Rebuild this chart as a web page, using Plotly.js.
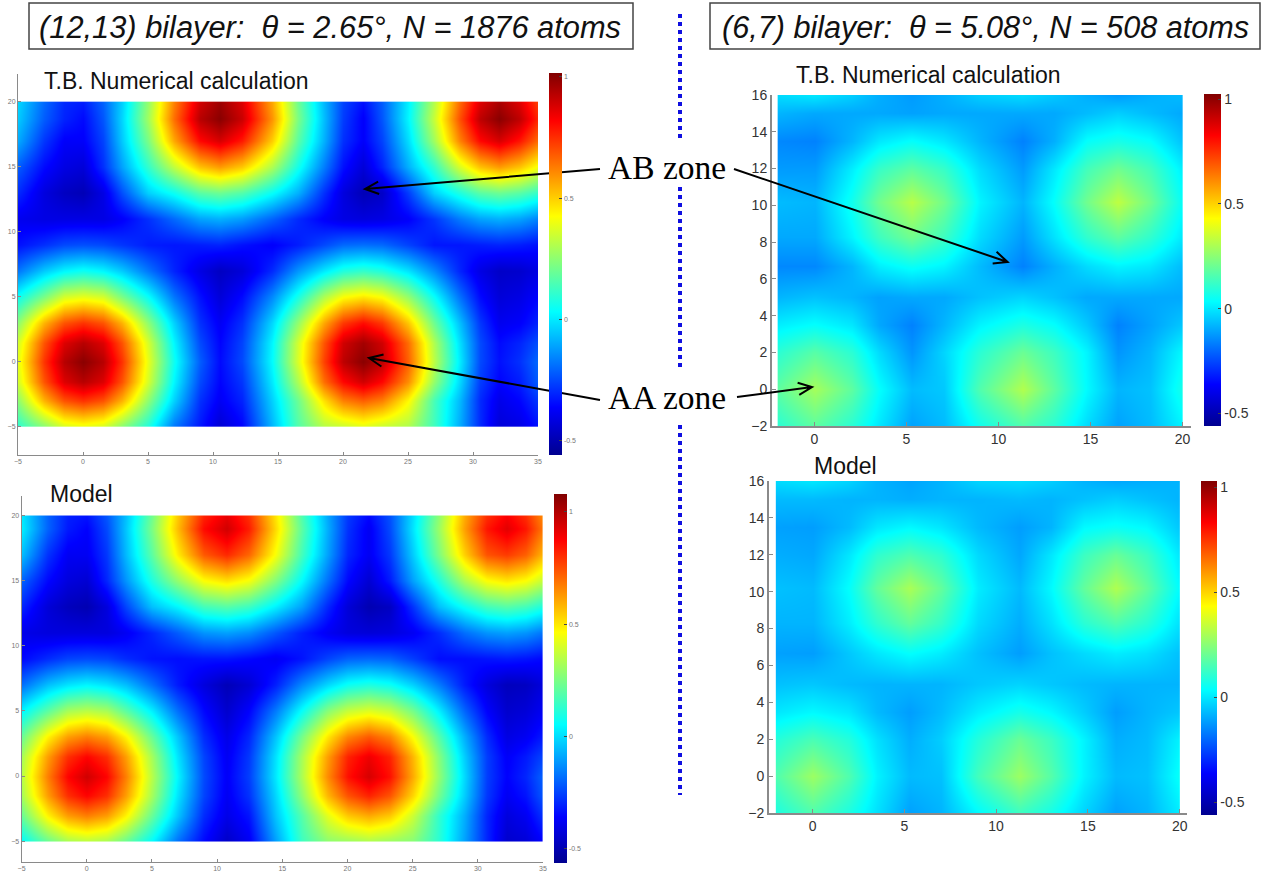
<!DOCTYPE html>
<html><head><meta charset="utf-8">
<script src="https://cdn.plot.ly/plotly-3.0.1.min.js"></script>
<style>html,body{margin:0;padding:0;background:#fff;overflow:hidden}</style>
</head><body><div id="chart" style="width:1275px;height:877px"></div>
<script>
// Values (colour → value through the colour bars)
const xA=[-5,-3,-1.5,0,1.5,3,5,7,9,10.5,12.2,14.5,16.5,18.5,20,21.5,23,25,27,29,30.5,32,33.5,35];
const yA=[-5,-3,-1.5,0,1.5,3,5,7,9,11,13,15,17,18.7,20];
const zA=[
[.1,.24,.36,.39,.36,.24,.08,-.18,-.33,-.44,-.36,-.08,.16,.31,.34,.38,.34,.3,.13,-.1,-.3,-.43,-.41,-.34],
[.25,.54,.69,.74,.69,.54,.25,-.04,-.29,-.38,-.31,-.04,.2,.47,.62,.67,.62,.43,.14,-.08,-.3,-.4,-.36,-.28],
[.36,.69,.87,.93,.87,.69,.36,.02,-.25,-.36,-.28,0,.3,.65,.81,.89,.81,.6,.26,-.03,-.27,-.36,-.32,-.22],
[.39,.74,.93,1,.93,.74,.39,.05,-.22,-.35,-.25,.03,.37,.72,.92,1,.92,.67,.32,0,-.25,-.34,-.29,-.2],
[.36,.69,.87,.93,.87,.69,.36,.02,-.25,-.36,-.26,.02,.36,.69,.89,.96,.89,.65,.3,-.02,-.25,-.35,-.31,-.24],
[.25,.54,.69,.74,.69,.54,.25,-.04,-.29,-.38,-.29,-.03,.26,.56,.73,.8,.73,.51,.2,-.07,-.28,-.39,-.37,-.31],
[.05,.22,.36,.39,.36,.22,.04,-.18,-.34,-.43,-.35,-.15,.07,.3,.42,.46,.42,.26,.04,-.19,-.35,-.43,-.41,-.36],
[-.18,-.05,.02,.05,.02,-.05,-.18,-.31,-.41,-.47,-.43,-.3,-.13,0,.08,.11,.08,-.01,-.15,-.31,-.41,-.46,-.45,-.41],
[-.34,-.29,-.25,-.24,-.25,-.28,-.32,-.33,-.32,-.31,-.34,-.37,-.32,-.25,-.2,-.19,-.2,-.26,-.33,-.33,-.32,-.31,-.32,-.34],
[-.39,-.41,-.41,-.41,-.41,-.37,-.29,-.2,-.11,-.09,-.12,-.21,-.3,-.37,-.41,-.42,-.41,-.37,-.28,-.17,-.11,-.09,-.11,-.16],
[-.3,-.42,-.47,-.49,-.41,-.24,-.04,.05,.17,.2,.16,.04,-.09,-.29,-.42,-.49,-.46,-.27,-.04,.08,.17,.2,.17,.11],
[-.22,-.35,-.41,-.43,-.29,-.11,.11,.33,.52,.58,.51,.3,.06,-.17,-.34,-.43,-.31,-.09,.11,.37,.52,.58,.52,.41],
[-.1,-.28,-.37,-.37,-.26,-.05,.22,.56,.81,.88,.78,.5,.17,-.09,-.29,-.37,-.26,-.02,.28,.62,.81,.88,.79,.65],
[-.05,-.22,-.31,-.35,-.23,-.03,.28,.65,.93,1,.9,.59,.22,-.07,-.27,-.37,-.23,.02,.34,.7,.92,1,.92,.76],
[-.03,-.2,-.3,-.32,-.21,-.04,.26,.62,.89,.97,.87,.56,.2,-.08,-.26,-.34,-.22,.01,.31,.66,.87,.95,.87,.72]];

const xC=[-5,-3,-1.5,0,1.5,3,5,7,9,10.7,12.4,14.5,16.5,18.5,20,21.6,23.2,25,27,29,30.7,32.2,33.7,35];
const yC=[-5,-3,-1.5,0,1.5,3,5,7,9,11,13,15,17,19,20];
const zC=[
[.05,.22,.32,.35,.32,.22,.05,-.18,-.35,-.46,-.38,-.1,.15,.28,.3,.33,.3,.27,.12,-.1,-.3,-.45,-.43,-.36],
[.22,.48,.62,.67,.62,.48,.22,-.04,-.29,-.4,-.33,-.04,.19,.42,.55,.6,.55,.38,.13,-.08,-.3,-.42,-.38,-.28],
[.32,.62,.8,.87,.8,.62,.32,.01,-.25,-.38,-.28,-.01,.28,.58,.74,.82,.74,.53,.24,-.03,-.27,-.38,-.33,-.22],
[.35,.67,.87,.95,.87,.67,.35,.04,-.24,-.37,-.26,.02,.33,.65,.85,.94,.85,.6,.29,-.01,-.26,-.36,-.3,-.2],
[.32,.62,.8,.87,.8,.62,.32,.01,-.25,-.38,-.27,.01,.32,.62,.82,.9,.82,.58,.27,-.03,-.26,-.37,-.32,-.25],
[.22,.48,.62,.67,.62,.48,.22,-.04,-.29,-.4,-.3,-.04,.24,.5,.66,.73,.66,.46,.19,-.08,-.29,-.41,-.38,-.32],
[.04,.2,.32,.35,.32,.2,.03,-.18,-.35,-.45,-.36,-.16,.06,.27,.37,.41,.37,.24,.03,-.2,-.36,-.45,-.43,-.38],
[-.18,-.05,.01,.04,.01,-.05,-.18,-.32,-.42,-.49,-.44,-.31,-.14,-.01,.07,.1,.07,-.02,-.16,-.32,-.42,-.48,-.47,-.42],
[-.35,-.29,-.25,-.24,-.25,-.29,-.33,-.34,-.33,-.33,-.35,-.38,-.33,-.25,-.2,-.19,-.2,-.26,-.34,-.34,-.33,-.32,-.33,-.35],
[-.4,-.42,-.42,-.42,-.42,-.38,-.3,-.21,-.12,-.1,-.13,-.22,-.31,-.38,-.42,-.43,-.42,-.38,-.29,-.18,-.12,-.1,-.12,-.17],
[-.3,-.43,-.48,-.5,-.42,-.25,-.05,.04,.16,.19,.15,.03,-.1,-.3,-.43,-.5,-.47,-.28,-.05,.07,.16,.19,.16,.1],
[-.2,-.35,-.42,-.44,-.3,-.12,.1,.29,.46,.51,.45,.26,.05,-.18,-.35,-.44,-.32,-.1,.1,.33,.46,.5,.46,.37],
[-.05,-.28,-.38,-.38,-.27,-.06,.2,.49,.73,.81,.71,.45,.16,-.1,-.3,-.38,-.27,-.03,.25,.54,.74,.78,.72,.58],
[.03,-.2,-.32,-.36,-.24,-.04,.25,.57,.86,.95,.83,.52,.2,-.08,-.28,-.38,-.24,.01,.3,.62,.84,.92,.84,.68],
[.02,-.2,-.31,-.33,-.22,-.05,.23,.55,.82,.91,.8,.5,.18,-.09,-.27,-.35,-.23,0,.28,.6,.8,.88,.8,.65]];

const xB=[-2,0,2,3.5,5.3,7,9,11.3,13,14.8,16.5,18.2,20];
const yB=[-2,0,2,3.5,5,6.7,8.3,10.2,12,13.5,15,16];
const zB=[
[.1,.18,.1,0,-.11,-.07,.06,.16,.1,-.02,-.11,-.07,.02],
[.18,.29,.18,.04,-.07,-.05,.16,.31,.18,.03,-.08,-.06,.07],
[.1,.17,.1,-.02,-.13,-.03,.1,.2,.13,.02,-.13,-.08,.03],
[.01,.04,0,-.1,-.16,-.08,.02,.08,.04,-.05,-.16,-.11,-.05],
[-.08,-.06,-.08,-.11,-.1,-.1,-.06,-.03,-.06,-.1,-.1,-.1,-.1],
[-.15,-.15,-.08,.01,.05,.02,-.07,-.16,-.09,-.02,.02,0,-.07],
[-.1,-.1,.02,.13,.21,.13,-.02,-.12,-.01,.11,.18,.11,0],
[-.07,-.08,.06,.21,.32,.21,.02,-.08,.04,.21,.33,.21,.04],
[-.12,-.12,.01,.12,.18,.12,-.02,-.12,0,.14,.21,.14,.01],
[-.15,-.16,-.08,0,.04,0,-.08,-.16,-.09,.04,.07,.04,-.06],
[-.08,-.1,-.1,-.1,-.11,-.1,-.1,-.1,-.1,-.07,-.04,-.07,-.1],
[-.02,0,-.04,-.09,-.12,-.09,-.04,-.02,-.05,-.09,-.12,-.09,-.07]];

const xD=[-2,0,2,3.5,5.3,7,9,11.3,13,14.8,16.5,18.2,20];
const yD=[-2,0,2,3.5,5,6.7,8.3,10.2,12,13.5,15,16];
const zD=[
[.08,.16,.08,-.01,-.11,-.08,.03,.13,.07,-.03,-.11,-.08,.01],
[.16,.28,.16,.02,-.07,-.06,.14,.28,.17,.02,-.07,-.06,.05],
[.09,.15,.09,-.01,-.09,-.04,.09,.2,.13,.02,-.09,-.07,.02],
[0,.03,0,-.07,-.115,-.07,.01,.07,.03,-.04,-.115,-.08,-.05],
[-.06,-.05,-.07,-.08,-.08,-.08,-.05,-.03,-.05,-.07,-.08,-.08,-.08],
[-.11,-.115,-.05,0,.04,.01,-.06,-.115,-.06,-.02,.01,-.01,-.06],
[-.08,-.08,.01,.11,.19,.12,-.02,-.09,-.01,.1,.16,.1,-.01],
[-.06,-.07,.04,.19,.3,.19,.01,-.07,.03,.19,.31,.19,.03],
[-.09,-.1,0,.11,.16,.11,-.02,-.1,0,.13,.2,.13,0],
[-.11,-.115,-.07,0,.03,0,-.07,-.115,-.08,.03,.05,.03,-.05],
[-.07,-.07,-.08,-.08,-.09,-.08,-.08,-.07,-.08,-.06,-.04,-.06,-.08],
[-.02,0,-.03,-.08,-.105,-.08,-.03,-.02,-.04,-.08,-.1,-.09,-.08]];

const ticksX35=[-5,0,5,10,15,20,25,30,35];
const ticksY20=[-5,0,5,10,15,20];
const ticksX20=[0,5,10,15,20];
const ticksY16=[-2,0,2,4,6,8,10,12,14,16];
const barTicks=[-0.5,0,0.5,1];
const barLabels=['-0.5','0','0.5','1'];
const titleA='(12,13) bilayer:  θ = 2.65°, N = 1876 atoms';
const titleB='(6,7) bilayer:  θ = 5.08°, N = 508 atoms';

const W=1275,H=877;
const px=v=>v/W, py=v=>1-v/H;
const jet=[[0,'#00008f'],[0.125,'#0000ff'],[0.375,'#00ffff'],[0.625,'#ffff00'],[0.875,'#ff0000'],[1,'#800000']];
// tiny outer duplicates keep the smoothed image inside the data extent
const padAxis=a=>[a[0]-1e-3,...a,a[a.length-1]+1e-3];
const padZ=z=>{const r=z.map(o=>[o[0],...o,o[o.length-1]]);return [r[0],...r,r[r.length-1]];};

const panels=[
 {id:'',x:xA,y:yA,z:zA,dom:[18,538,74,455],xr:[-5,35],yr:[-7.18,22.13],xt:ticksX35,yt:ticksY20,fs:7,
  bar:[549,562,73,455],zr:[-0.56,1.016]},
 {id:'2',x:xB,y:yB,z:zB,dom:[771.6,1191,95,426],xr:[-2.33,20.46],yr:[-2,16],xt:ticksX20,yt:ticksY16,fs:14,
  bar:[1204,1220.6,94,426],zr:[-0.56,1.025]},
 {id:'3',x:xC,y:yC,z:zC,dom:[21.6,543,496,862],xr:[-5,35],yr:[-6.6,21.5],xt:ticksX35,yt:ticksY20,fs:7,
  bar:[554,567,494,863],zr:[-0.565,1.08]},
 {id:'4',x:xD,y:yD,z:zD,dom:[768.7,1187,481,813],xr:[-2.39,20.4],yr:[-2,16],xt:ticksX20,yt:ticksY16,fs:14,
  bar:[1201,1217,481,815],zr:[-0.56,1.03]}
];

const data=[],layout={width:W,height:H,margin:{l:0,r:0,t:0,b:0},paper_bgcolor:'#fff',plot_bgcolor:'#fff',
  showlegend:false,annotations:[],shapes:[]};
panels.forEach(p=>{
  const [l,r,t,b]=p.dom,[bl,br,bt,bb]=p.bar;
  data.push({type:'heatmap',x:padAxis(p.x),y:padAxis(p.y),z:padZ(p.z),zsmooth:'best',colorscale:jet,
    zmin:p.zr[0],zmax:p.zr[1],hoverinfo:'skip',xaxis:'x'+p.id,yaxis:'y'+p.id,
    colorbar:{xref:'paper',yref:'paper',x:px(bl),xanchor:'left',xpad:0,ypad:0,y:py((bt+bb)/2),yanchor:'middle',
      lenmode:'pixels',len:bb-bt,thicknessmode:'pixels',thickness:br-bl,outlinewidth:0,
      tickmode:'array',tickvals:barTicks,ticktext:barLabels,ticks:'inside',ticklen:3,tickcolor:'#444',
      tickfont:{family:'Liberation Sans',size:p.fs,color:p.fs<10?'#777':'#333'}}});
  const common={showline:true,linecolor:'#8a8a8a',linewidth:p.fs<10?1:1.6,ticks:'inside',ticklen:p.fs<10?3:4,tickcolor:'#8a8a8a',
    showgrid:false,zeroline:false,fixedrange:true,tickmode:'array',
    tickfont:{family:'Liberation Sans',size:p.fs,color:p.fs<10?'#777':'#333'}};
  layout['xaxis'+p.id]=Object.assign({},common,{domain:[px(l),px(r)],range:p.xr,tickvals:p.xt,anchor:'y'+p.id});
  layout['yaxis'+p.id]=Object.assign({},common,{domain:[py(b),py(t)],range:p.yr,tickvals:p.yt,anchor:'x'+p.id});
});

const text=(s,x,y,size,extra)=>layout.annotations.push({text:s,xref:'paper',yref:'paper',x:px(x),y:py(y),xanchor:'left',yanchor:'middle',
  showarrow:false,font:Object.assign({family:'Liberation Sans',size:size,color:'#111'},extra||{})});
text(titleA,37,27,30.8,{style:'italic'});
text(titleB,720,27,30.6,{style:'italic'});
text('T.B. Numerical calculation',42,81,23);
text('T.B. Numerical calculation',794,75,23);
text('Model',48,494,23);
text('Model',812,466,23);
text('AB zone',606,167,33.5,{family:'Liberation Serif',color:'#000'});
text('AA zone',606,397,33.5,{family:'Liberation Serif',color:'#000'});

const box=(x0,y0,x1,y1)=>layout.shapes.push({type:'rect',xref:'paper',yref:'paper',x0:px(x0),x1:px(x1),y0:py(y0),y1:py(y1),
  line:{color:'#444',width:1.5},fillcolor:'rgba(0,0,0,0)',layer:'above'});
box(29,3,633,49);box(710,3,1260,49);

[[14,140],[187,369],[425,795]].forEach(([a,b])=>layout.shapes.push({type:'line',xref:'paper',yref:'paper',x0:px(680),x1:px(680),y0:py(a),y1:py(b),
  line:{color:'#1010e0',width:4,dash:'dot'},layer:'above'}));

const arrow=(x0,y0,x1,y1)=>{
  const a=Math.atan2(y0-y1,x0-x1),len=15,sp=0.42;
  const pts=[[x1+len*Math.cos(a+sp),y1+len*Math.sin(a+sp)],[x1,y1],[x1+len*Math.cos(a-sp),y1+len*Math.sin(a-sp)]];
  const P=q=>px(q[0])+','+py(q[1]);
  layout.shapes.push({type:'path',xref:'paper',yref:'paper',layer:'above',line:{color:'#000',width:2},
    path:'M'+P([x0,y0])+'L'+P([x1,y1])+'M'+P(pts[0])+'L'+P(pts[1])+'L'+P(pts[2])});
};
arrow(600,169,365,189);
arrow(600,400,369,358);
arrow(734,169,1007.6,262);
arrow(737,397,812,387);

Plotly.newPlot('chart',data,layout,{displayModeBar:false,staticPlot:true});
</script></body></html>
